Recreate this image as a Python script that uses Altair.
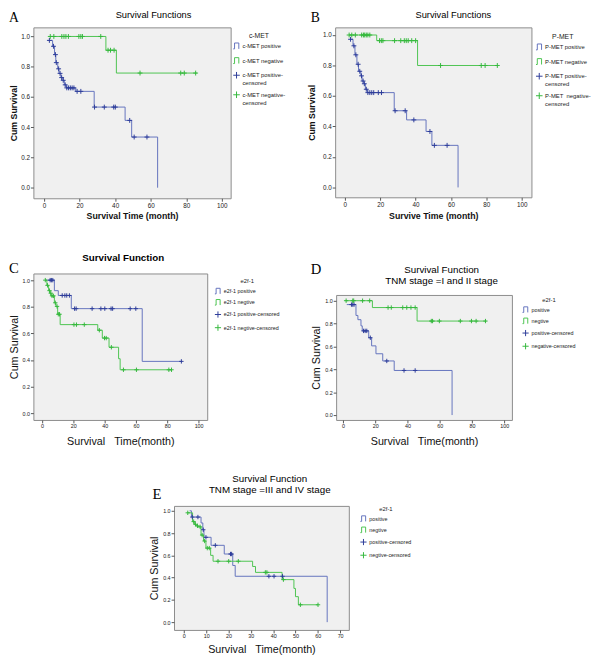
import altair as alt
import pandas as pd

SANS = "Liberation Sans"
SERIF = "Liberation Serif"
BLUE_LINE = "#6373bd"
BLUE_CENS = "#2d3c9a"
GREEN_LINE = "#4cc450"
GREEN_CENS = "#34b83c"
STEP = "M-1,0.9L-0.6,0.9L-0.6,-0.9L0.7,-0.9L0.7,0.9"
PLUS = "M-1,0L1,0M0,-1L0,1"

# ---------------- Panel A (c-MET) ----------------
a_pos_t = [2.6, 4.8, 5.9, 6.6, 7.7, 8.4, 9.5, 10.6, 11.4, 12.5, 17.8, 28.2, 45.6, 49.3, 63.9]
a_pos_s = [0.974, 0.935, 0.88, 0.827, 0.786, 0.756, 0.728, 0.71, 0.68, 0.66, 0.637, 0.533, 0.445, 0.335, 0.0]
a_pos_c = [3.0, 5.3, 6.4, 6.9, 8.2, 9.0, 9.9, 10.8, 11.9, 12.8, 13.8, 14.8, 15.8, 16.8, 18.6, 20.7, 28.4, 33.9, 39.2, 40.1, 48.2, 50.7, 57.9]
a_neg_t = [3.5, 34.8, 40.7, 86.0]
a_neg_s = [1.0, 0.909, 0.758, 0.758]
a_neg_c = [3.5, 5.5, 10.0, 11.2, 12.3, 13.7, 19.6, 20.7, 21.6, 31.9, 36.0, 37.4, 39.4, 54.0, 76.9, 78.9, 85.3]
a_labels = ["c-MET positive", "c-MET negative", "c-MET positive-censored", "c-MET negative-censored"]

# ---------------- Panel B (P-MET) ----------------
b_pos_t = [2.75, 4.6, 5.7, 6.8, 7.7, 9.0, 9.7, 10.8, 11.6, 12.7, 27.9, 34.9, 45.9, 49.2, 64.0]
b_pos_s = [0.972, 0.929, 0.87, 0.808, 0.762, 0.732, 0.698, 0.68, 0.644, 0.622, 0.503, 0.443, 0.367, 0.276, 0.0]
b_pos_c = [3.2, 5.1, 6.2, 7.5, 8.4, 9.4, 10.3, 11.0, 12.1, 13.0, 14.1, 15.2, 16.3, 18.9, 20.7, 28.4, 34.1, 39.0, 48.1, 50.6, 57.8]
b_neg_t = [2.4, 18.0, 41.1, 86.2]
b_neg_s = [1.0, 0.963, 0.80, 0.80]
b_neg_c = [2.4, 3.9, 5.9, 9.5, 10.5, 11.2, 12.1, 13.0, 14.1, 19.6, 20.6, 21.5, 28.1, 31.6, 33.6, 34.7, 35.8, 37.8, 40.0, 54.1, 77.1, 79.3, 86.2]
b_labels = ["P-MET positive", "P-MET negative", "P-MET positive-censored", "P-MET\u00a0 negative-censored"]

# ---------------- Panel C (e2f-1) ----------------
c_pos_t = [2.0, 7.9, 10.4, 18.7, 64.0, 89.0]
c_pos_s = [1.0, 0.921, 0.885, 0.786, 0.39, 0.39]
c_pos_c = [5.2, 6.0, 6.9, 12.9, 14.6, 15.8, 17.5, 20.8, 21.8, 32.0, 37.6, 40.1, 44.1, 45.1, 56.3, 59.9, 89.0]
c_neg_t = [2.1, 3.1, 4.2, 5.0, 5.8, 7.9, 8.9, 10.0, 11.6, 35.6, 38.5, 42.8, 48.9, 49.9, 83.0]
c_neg_s = [1.0, 0.961, 0.921, 0.902, 0.882, 0.83, 0.803, 0.744, 0.666, 0.624, 0.565, 0.496, 0.41, 0.327, 0.327]
c_neg_c = [2.1, 3.5, 4.8, 5.6, 6.4, 7.3, 8.5, 9.6, 10.4, 11.2, 20.4, 22.0, 27.0, 36.6, 39.9, 41.0, 44.3, 52.0, 60.3, 81.0, 82.7]
c_labels = ["e2f-1 positive", "e2f-1 negtive", "e2f-1 positive-censored", "e2f-1 negtive-censored"]

# ---------------- Panel D (TNM I and II) ----------------
d_pos_t = [2.4, 8.1, 9.3, 11.2, 12.0, 16.0, 17.8, 20.5, 24.7, 31.8, 67.7]
d_pos_s = [0.966, 0.871, 0.834, 0.78, 0.736, 0.676, 0.605, 0.536, 0.473, 0.39, 0.0]
d_pos_c = [5.3, 6.1, 6.9, 12.8, 13.8, 14.8, 17.0, 27.2, 37.9, 44.8]
d_neg_t = [1.6, 18.3, 46.0, 89.0]
d_neg_s = [1.0, 0.94, 0.822, 0.822]
d_neg_c = [2.0, 6.1, 6.7, 12.2, 16.6, 28.0, 30.0, 37.1, 39.6, 42.2, 44.8, 54.8, 55.6, 59.8, 72.8, 79.7, 82.6, 88.4]
d_labels = ["positive", "negtive", "positive-censored", "negative-censored"]

# ---------------- Panel E (TNM III and IV) ----------------
e_pos_t = [2.6, 3.4, 7.7, 8.5, 9.0, 12.2, 18.1, 21.9, 23.0, 64.2]
e_pos_s = [1.0, 0.944, 0.891, 0.83, 0.762, 0.69, 0.612, 0.509, 0.412, 0.0]
e_pos_c = [3.8, 6.3, 8.7, 9.9, 14.1, 20.9, 21.4, 38.1, 40.4, 44.2]
e_neg_t = [1.75, 3.9, 4.7, 5.4, 6.3, 7.7, 8.8, 9.9, 12.0, 13.1, 30.8, 32.1, 44.0, 49.3, 50.0, 51.3, 60.1]
e_neg_s = [0.982, 0.903, 0.879, 0.865, 0.856, 0.782, 0.729, 0.665, 0.60, 0.547, 0.50, 0.447, 0.382, 0.303, 0.229, 0.156, 0.156]
e_neg_c = [1.75, 4.4, 5.2, 6.1, 7.3, 8.2, 9.3, 10.5, 11.4, 15.3, 20.1, 24.4, 36.5, 37.2, 44.6, 52.2, 60.1]
e_labels = ["positive", "negtive", "positive-censored", "negtive-censored"]

Y_TICKS = [0.0, 0.2, 0.4, 0.6, 0.8, 1.0]
X_TICKS_100 = [0, 20, 40, 60, 80, 100]
X_TICKS_70 = [0, 10, 20, 30, 40, 50, 60, 70]


def surv_at(t, times, survs):
    v = survs[0]
    for ti, si in zip(times, survs):
        if ti <= t + 1e-9:
            v = si
    return v


def frames(pos_t, pos_s, pos_c, neg_t, neg_s, neg_c, labels):
    lines = pd.DataFrame({
        "t": pos_t + neg_t,
        "s": pos_s + neg_s,
        "key": [labels[0]] * len(pos_t) + [labels[1]] * len(neg_t),
    })
    cens = pd.DataFrame({
        "t": pos_c + neg_c,
        "s": [surv_at(c, pos_t, pos_s) for c in pos_c] + [surv_at(c, neg_t, neg_s) for c in neg_c],
        "key": [labels[2]] * len(pos_c) + [labels[3]] * len(neg_c),
    })
    return lines, cens


def txt(s, x, y, size, weight="normal", font=SANS, align="center", baseline="middle"):
    return alt.Chart(pd.DataFrame({"label": [s]})).mark_text(
        x=x, y=y, fontSize=size, fontWeight=weight, font=font, align=align,
        baseline=baseline, color="black"
    ).encode(text="label:N")


def panel(data, labels, cfg):
    lines, cens = frames(*data, labels)
    xs = alt.Scale(domain=cfg["xdom"], nice=False, zero=False)
    ys = alt.Scale(domain=cfg["ydom"], nice=False, zero=False)
    cscale = alt.Scale(domain=labels, range=[BLUE_LINE, GREEN_LINE, BLUE_CENS, GREEN_CENS])
    sscale = alt.Scale(domain=labels, range=[STEP, STEP, PLUS, PLUS])
    leg_kw = dict(
        orient="none", legendX=cfg["lx"], legendY=cfg["ly"], title=cfg["ltitle"],
        titleFont=SANS, titleFontSize=cfg["ltfs"], titleFontWeight="normal", titleColor="#222",
        titleAnchor="middle", titlePadding=3,
        labelFont=SANS, labelFontSize=cfg["lfs"], labelColor="#222", labelLimit=300, labelOffset=2,
        symbolSize=cfg["lsym"], symbolStrokeWidth=1, rowPadding=cfg["lrow"], padding=0,
    )
    if cfg.get("split"):
        leg_kw["labelExpr"] = "indexof(datum.label, 'censored') >= 0 ? [slice(datum.label, 0, -8), 'censored'] : datum.label"
    leg = alt.Legend(**leg_kw)
    xaxis = alt.Axis(values=cfg["xticks"], format="d", title=cfg["xtitle"], grid=False, domain=False,
                     tickSize=3, tickColor="#555", labelFontSize=cfg["tfs"], labelFont=SANS, labelColor="#222",
                     labelPadding=1, labelFlush=False, labelOverlap=False,
                     titleFont=SANS, titleFontSize=cfg["atfs"], titleFontWeight=cfg["atw"], titleColor="#111",
                     titleY=cfg["xty"], titleBaseline="middle")
    yaxis = alt.Axis(values=Y_TICKS, format=".1f", title="Cum Survival", grid=False, domain=False,
                     tickSize=3, tickColor="#555", labelFontSize=cfg["tfs"], labelFont=SANS, labelColor="#222",
                     labelPadding=1, labelFlush=False, labelOverlap=False,
                     titleFont=SANS, titleFontSize=cfg["atfs"], titleFontWeight=cfg["atw"], titleColor="#111",
                     titleX=cfg["ytx"], titleY=cfg["h"] / 2, titleBaseline="middle", titleAngle=270)
    line = alt.Chart(lines).mark_line(interpolate="step-after", strokeWidth=1).encode(
        x=alt.X("t:Q", scale=xs, axis=xaxis),
        y=alt.Y("s:Q", scale=ys, axis=yaxis),
        color=alt.Color("key:N", scale=cscale, legend=leg),
        detail="key:N",
    )
    pts = alt.Chart(cens).mark_point(filled=False, size=cfg["msize"], strokeWidth=1, opacity=1).encode(
        x=alt.X("t:Q", scale=xs, axis=xaxis),
        y=alt.Y("s:Q", scale=ys, axis=yaxis),
        color=alt.Color("key:N", scale=cscale, legend=leg),
        shape=alt.Shape("key:N", scale=sscale, legend=leg),
    )
    layers = [line, pts] + cfg["texts"]
    return alt.layer(*layers).properties(
        width=cfg["w"], height=cfg["h"],
        view=alt.ViewBackground(fill="#f0f0f0", stroke="#8a8a8a", strokeWidth=1),
    )


def spacer(w, h):
    return alt.Chart(pd.DataFrame({"v": [0]})).mark_point(opacity=0, size=1).encode(
        x=alt.value(w / 2), y=alt.value(h / 2)
    ).properties(width=w, height=h, view=alt.ViewBackground(fill="transparent", stroke="transparent"))


big = dict(tfs=6.5, atfs=9, atw="bold", ltfs=7, lfs=6, lsym=45, lrow=3, msize=25)
small = dict(tfs=5.5, atfs=11, atw="normal", ltfs=6, lfs=5.5, lsym=40, lrow=1.5, msize=20)

pA = panel((a_pos_t, a_pos_s, a_pos_c, a_neg_t, a_neg_s, a_neg_c), a_labels, dict(
    big, w=202, h=175, xdom=[-6, 105], ydom=[-0.07, 1.06], xticks=X_TICKS_100,
    xtitle="Survival Time (month)", xty=18, ytx=-20, lx=204, ly=5, ltitle="c-MET", split=True,
    texts=[txt("A", -25, -17, 14, font=SERIF, align="left", baseline="top"),
           txt("Survival Functions", 123, -12.5, 9.5)]))

pB = panel((b_pos_t, b_pos_s, b_pos_c, b_neg_t, b_neg_s, b_neg_c), b_labels, dict(
    big, w=201, h=174, xdom=[-5.5, 105.5], ydom=[-0.065, 1.05], xticks=X_TICKS_100,
    xtitle="Survive Time (month)", xty=19, ytx=-24, lx=205, ly=6, ltitle="P-MET", split=True,
    texts=[txt("B", -25, -17, 14, font=SERIF, align="left", baseline="top"),
           txt("Survival Functions", 121, -12.5, 9.5)]))

pC = panel((c_pos_t, c_pos_s, c_pos_c, c_neg_t, c_neg_s, c_neg_c), c_labels, dict(
    small, w=178, h=150, xdom=[-5.5, 105.5], ydom=[-0.05, 1.05], xticks=X_TICKS_100,
    xtitle="Survival\u00a0\u00a0\u00a0Time(month)", xty=22, ytx=-19, lx=185, ly=5, ltitle="e2f-1",
    texts=[txt("C", -25, -12, 15, font=SERIF, align="left", baseline="top"),
           txt("Survival Function", 92, -16, 10, weight="bold")]))

pD = panel((d_pos_t, d_pos_s, d_pos_c, d_neg_t, d_neg_s, d_neg_c), d_labels, dict(
    small, w=180, h=128, xdom=[-4.2, 104.8], ydom=[-0.043, 1.05], xticks=X_TICKS_100,
    xtitle="Survival\u00a0\u00a0\u00a0Time(month)", xty=22, ytx=-20, lx=190, ly=2, ltitle="e2f-1",
    texts=[txt("D", -26, -33, 15, font=SERIF, align="left", baseline="top"),
           txt("Survival Function", 108, -26, 10),
           txt("TNM stage =I and II stage", 108, -14, 10)]))

pE = panel((e_pos_t, e_pos_s, e_pos_c, e_neg_t, e_neg_s, e_neg_c), e_labels, dict(
    small, w=179, h=127, xdom=[-4.4, 73.9], ydom=[-0.07, 1.044], xticks=X_TICKS_70,
    xtitle="Survival\u00a0\u00a0\u00a0Time(month)", xty=20, ytx=-20, lx=190, ly=0, ltitle="e2f-1",
    texts=[txt("E", -22, -19, 15, font=SERIF, align="left", baseline="top"),
           txt("Survival Function", 98, -28, 10),
           txt("TNM stage =III and IV stage", 98, -16, 10)]))

IND = dict(color="independent", shape="independent")

row1 = alt.hconcat(pA, pB, spacing=107, bounds="flush").resolve_scale(**IND)
d_col = alt.vconcat(spacer(180, 22), pD, spacing=0, bounds="flush").resolve_scale(**IND)
row2 = alt.hconcat(pC, d_col, spacing=132, bounds="flush").resolve_scale(**IND)
row3 = alt.hconcat(spacer(144, 1), pE, spacing=0, bounds="flush").resolve_scale(**IND)
lower = alt.vconcat(row2, row3, spacing=26, bounds="full").resolve_scale(**IND)
chart = alt.vconcat(row1, lower, spacing=31, bounds="full").resolve_scale(**IND).properties(
    padding={"left": 0, "top": -6, "right": 0, "bottom": 0}
).configure(font=SANS)

chart.save("out.html", embed_options={"renderer": "svg", "actions": False})
